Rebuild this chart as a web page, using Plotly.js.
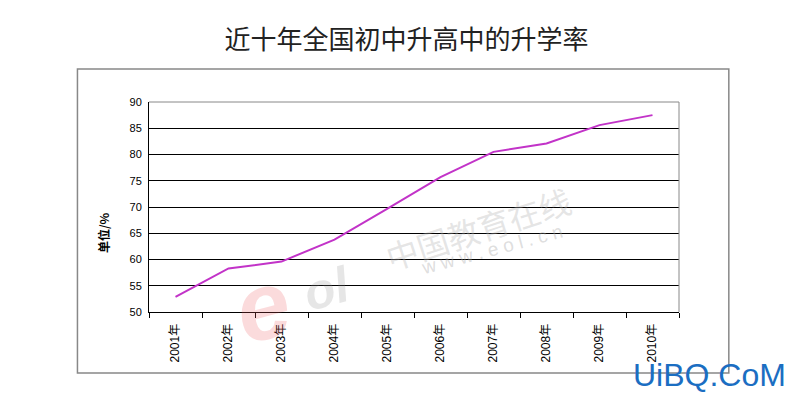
<!DOCTYPE html>
<html>
<head>
<meta charset="utf-8">
<script src="https://cdn.plot.ly/plotly-3.0.1.min.js"></script>
<style>html,body{margin:0;padding:0;background:#fff;}#chart{width:800px;height:400px;}</style>
</head>
<body>
<div id="chart"></div>
<script>
const categories = ["2001年","2002年","2003年","2004年","2005年","2006年","2007年","2008年","2009年","2010年"];
const rates = [52.9, 58.3, 59.6, 63.8, 69.7, 75.7, 80.5, 82.1, 85.6, 87.5];
const yTicks = [50, 55, 60, 65, 70, 75, 80, 85, 90];
const yTitle = "单位/%";

const trace = {
  x: categories, y: rates, type: "scatter", mode: "lines",
  line: {color: "#c233c8", width: 2}, hoverinfo: "x+y"
};

const wm = (text, x, y, angle, family, size, color) => ({
  text, xref: "paper", yref: "paper", x, y, xanchor: "center", yanchor: "middle",
  showarrow: false, textangle: angle, font: {family, size, color}
});

const layout = {
  width: 800, height: 400,
  margin: {l: 149, r: 121, t: 102, b: 88},
  paper_bgcolor: "#fff", plot_bgcolor: "#fff",
  showlegend: false,
  title: {text: "近十年全国初中升高中的升学率", x: 0.508, xanchor: "center", y: 0.9, yanchor: "middle",
          font: {family: "Noto Sans CJK SC, sans-serif", size: 26, color: "#222"}},
  xaxis: {
    type: "category", showgrid: false, zeroline: false,
    showline: true, linecolor: "#000", linewidth: 1,
    ticks: "outside", tickson: "boundaries", ticklen: 5, tickcolor: "#000",
    ticklabelstandoff: 6,
    tickangle: -90, tickfont: {family: "Liberation Sans, Noto Sans CJK SC, sans-serif", size: 12, color: "#000"},
    range: [-0.5, 9.5], fixedrange: true
  },
  yaxis: {
    range: [50, 90], tickvals: yTicks, ticktext: yTicks.map(String),
    showgrid: true, gridcolor: "#000", gridwidth: 1, zeroline: false,
    showline: true, linecolor: "#000", linewidth: 1, mirror: false,
    ticks: "", ticklabelstandoff: 4,
    tickfont: {family: "Liberation Sans, sans-serif", size: 11, color: "#000"}
  },
  shapes: [
    {type: "rect", xref: "paper", yref: "paper", x0: -0.135, x1: 1.094, y0: -0.29, y1: 1.157,
     line: {color: "#888", width: 1.5}, fillcolor: "rgba(0,0,0,0)", layer: "below"},
    {type: "line", xref: "paper", yref: "paper", x0: 0, x1: 1, y0: 1, y1: 1, line: {color: "#888", width: 1}},
    {type: "line", xref: "paper", yref: "paper", x0: 1, x1: 1, y0: 0, y1: 1, line: {color: "#888", width: 1}}
  ],
  annotations: [
    wm("<b>" + yTitle + "</b>", -0.087, 0.38, -90, "Noto Sans CJK SC, sans-serif", 12, "#000"),
    wm("<b><i>e</i></b>", 0.215, 0.03, -15, "Liberation Sans, sans-serif", 95, "rgba(235,90,95,0.22)"),
    wm("<b><i>ol</i></b>", 0.335, 0.11, -15, "Liberation Sans, sans-serif", 50, "rgba(140,140,140,0.22)"),
    wm("中国教育在线", 0.62, 0.40, -18, "Noto Sans CJK SC, sans-serif", 32, "rgba(180,180,180,0.35)"),
    wm("w w w . e o l . c n", 0.647, 0.30, -15, "Liberation Sans, sans-serif", 19, "rgba(170,170,170,0.4)"),
    wm("UiBQ.CoM", 1.057, -0.30, 0, "Liberation Sans, Arial, sans-serif", 32, "#1b6ec2")
  ]
};

Plotly.newPlot("chart", [trace], layout, {displayModeBar: false, staticPlot: true});
</script>
</body>
</html>
